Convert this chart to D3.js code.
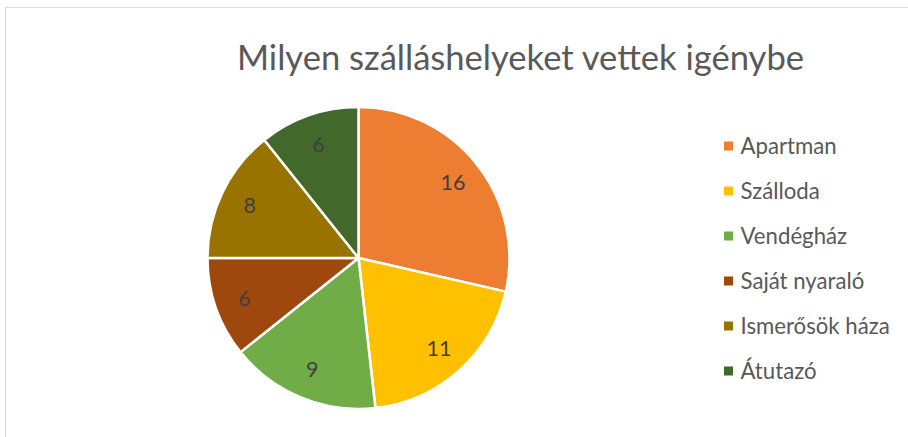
<!DOCTYPE html>
<html><head><meta charset="utf-8">
<script src="https://cdn.jsdelivr.net/npm/d3@7"></script>
<style>body{margin:0;background:#fff}svg{display:block}</style>
</head><body>
<svg id="c" width="908" height="437"></svg>
<script>
const categories = ["Apartman","Szálloda","Vendégház","Saját nyaraló","Ismerősök háza","Átutazó"];
const values = [16,11,9,6,8,6];
const colors = ["#ED7D31","#FFC000","#70AD47","#9E480E","#997300","#43682B"];
const title = "Milyen szálláshelyeket vettek igénybe";

const svg = d3.select("#c");
const font = "Lato, 'Open Sans', sans-serif";
svg.append("rect").attr("x",5.5).attr("y",7.5).attr("width",920).attr("height",450)
  .attr("fill","#fff").attr("stroke","#d9d9d9").attr("stroke-width",1);

svg.append("text").attr("x",520.5).attr("y",70).attr("text-anchor","middle")
  .attr("font-family",font).attr("font-size",34.6).attr("fill","#595959").text(title);

const cx=358.5, cy=258, r=151;
const pie = d3.pie().sort(null).value(d=>d)(values);
const arc = d3.arc().innerRadius(0).outerRadius(r);
const lab = d3.arc().innerRadius(r*0.8).outerRadius(r*0.8);
const g = svg.append("g").attr("transform",`translate(${cx},${cy})`);
g.selectAll("path").data(pie).join("path").attr("d",arc)
  .attr("fill",(d,i)=>colors[i]).attr("stroke","#fff").attr("stroke-width",2.5).attr("stroke-linejoin","round");
g.selectAll("text").data(pie).join("text")
  .attr("transform",d=>`translate(${lab.centroid(d)})`)
  .attr("text-anchor","middle").attr("dy","0.36em")
  .attr("font-family",font).attr("font-size",21.5).attr("fill","#404040")
  .text(d=>d.data);

const lg = svg.append("g");
const rowY = d3.scalePoint().domain(categories).range([146,371]);
const items = lg.selectAll("g").data(categories).join("g")
  .attr("transform",d=>`translate(724,${rowY(d)})`);
items.append("rect").attr("x",0).attr("y",-4.5).attr("width",9).attr("height",9)
  .attr("fill",(d,i)=>colors[i]);
items.append("text").attr("x",16.5).attr("y",7.5)
  .attr("font-family",font).attr("font-size",22.2).attr("fill","#595959").text(d=>d);
</script>
</body></html>
